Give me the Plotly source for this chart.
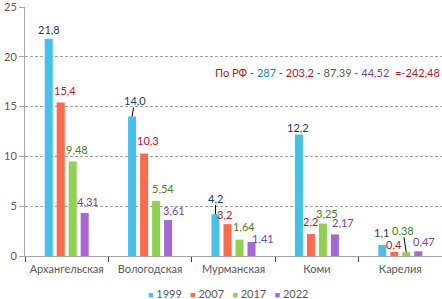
import plotly.graph_objects as go

# ---- data ----
categories = ["Архангельская", "Вологодская", "Мурманская", "Коми", "Карелия"]
series_names = ["1999", "2007", "2017", "2022"]
v1999 = [21.8, 14.0, 4.2, 12.2, 1.1]
v2007 = [15.4, 10.3, 3.2, 2.2, 0.4]
v2017 = [9.48, 5.54, 1.64, 3.25, 0.38]
v2022 = [4.31, 3.61, 1.41, 2.17, 0.47]
labels1999 = ["21,8", "14,0", "4,2", "12,2", "1,1"]
labels2007 = ["15,4", "10,3", "3,2", "2,2", "0,4"]
labels2017 = ["9,48", "5,54", "1,64", "3,25", "0,38"]
labels2022 = ["4,31", "3,61", "1,41", "2,17", "0,47"]
y_ticks = [0, 5, 10, 15, 20, 25]
rf_prefix = "По РФ"
rf_values = ["287", "203,2", "87,39", "44,52"]
rf_total = "=-242,48"

series_values = [v1999, v2007, v2017, v2022]
series_labels = [labels1999, labels2007, labels2017, labels2022]

# ---- styles ----
FONT = "Lato, 'Noto Sans', sans-serif"
bar_colors = ["#48C0EA", "#FF6A4D", "#92D050", "#A569D6"]
label_colors = ["#1F3864", "#B0202A", "#4E7A27", "#7A45AE"]
rf_colors = ["#2E7DB8", "#B0202A", "#56693A", "#7A45AE"]
axis_text = "#595959"
W, H = 442, 299
ML, MR, MT, MB = 25, 0, 5, 43
BARGAP, GROUPGAP = 0.425, 0.33

# label offsets (px) relative to bar top centre; leader lines where the original had them
label_dx = [[0, 2.5, 0, -0.5, -0.5],
            [4.5, 4, -3, 0, -0.5],
            [4, 6.5, 5, 4.5, -3.5],
            [3.5, 6, 12, 8, 6]]
label_dy = [[-9.5, -16, -16, -7, -12.5],
            [-12, -13, -10, -12.5, -8],
            [-12.5, -12.5, -13, -10, -22],
            [-11.5, -9.5, -3, -12, -10]]
leader = [[False, True, True, False, False],
          [False, False, False, False, False],
          [False, False, False, False, True],
          [False, False, False, False, False]]

fig = go.Figure()
for name, vals, col in zip(series_names, series_values, bar_colors):
    fig.add_trace(go.Bar(x=categories, y=vals, name=name, marker_color=col,
                         marker_line_width=0, showlegend=False))

plot_w = W - ML - MR
slot = plot_w / len(categories) * (1 - BARGAP) / len(series_names)
annotations = []
for i, (vals, labs, lc) in enumerate(zip(series_values, series_labels, label_colors)):
    xs = (i - (len(series_names) - 1) / 2) * slot
    for j, (cat, v, lab) in enumerate(zip(categories, vals, labs)):
        annotations.append(dict(
            x=cat, y=v, xref="x", yref="y", text=lab, xshift=xs,
            showarrow=True, ax=label_dx[i][j], ay=label_dy[i][j],
            arrowhead=0, arrowwidth=1, standoff=0, startstandoff=0, borderpad=0,
            arrowcolor="#000000" if leader[i][j] else "rgba(0,0,0,0)",
            font=dict(family=FONT, size=11, color=lc)))

# По РФ annotation
parts = [f"<span style='color:{label_colors[1]}'>{rf_prefix} - </span>"]
for k, (val, c) in enumerate(zip(rf_values, rf_colors)):
    sep = "" if k == 0 else f"<span style='color:{rf_colors[k]}'> - </span>"
    parts.append(sep + f"<span style='color:{c}'>{val}</span>")
parts.append(f"<span style='color:{label_colors[1]}'>\u00a0\u00a0{rf_total}</span>")
annotations.append(dict(x=1.0, y=0.737, xref="paper", yref="paper", xanchor="right",
                        yanchor="middle", showarrow=False, text="".join(parts),
                        font=dict(family=FONT, size=11, color=label_colors[1])))

# legend drawn as text
legend_parts = []
for name, col in zip(series_names, bar_colors):
    legend_parts.append(f"<span style='color:{col};font-size:9px'>■</span>\u00a0{name}")
annotations.append(dict(x=0.487, y=-0.151, xref="paper", yref="paper", xanchor="center",
                        yanchor="middle", showarrow=False,
                        text="\u00a0\u00a0\u00a0".join(legend_parts),
                        font=dict(family=FONT, size=11, color=axis_text)))

fig.update_layout(
    width=W, height=H, autosize=False,
    margin=dict(l=ML, r=MR, t=MT, b=MB, pad=0),
    paper_bgcolor="white", plot_bgcolor="white",
    barmode="group", bargap=BARGAP, bargroupgap=GROUPGAP,
    font=dict(family=FONT, size=11, color=axis_text),
    annotations=annotations,
    showlegend=False,
)
fig.update_xaxes(showline=True, linecolor="#A6A6A6", linewidth=1,
                 ticks="outside", tickson="boundaries", ticklen=5, tickcolor="#404040",
                 ticklabelstandoff=3,
                 showgrid=False, tickfont=dict(family=FONT, size=11, color=axis_text))
fig.update_yaxes(range=[0, 25], tickvals=y_ticks, showline=True, linecolor="#A6A6A6",
                 linewidth=1, ticks="outside", ticklen=5, tickcolor="#A6A6A6",
                 showgrid=True, gridcolor="#A6A6A6", griddash="3px,2px", gridwidth=1,
                 zeroline=False, ticklabeloverflow="allow",
                 tickfont=dict(family=FONT, size=11, color=axis_text))

fig.write_html("out.html", config={"displayModeBar": False},
               post_script="document.body.style.margin='0';document.body.style.padding='0';")
